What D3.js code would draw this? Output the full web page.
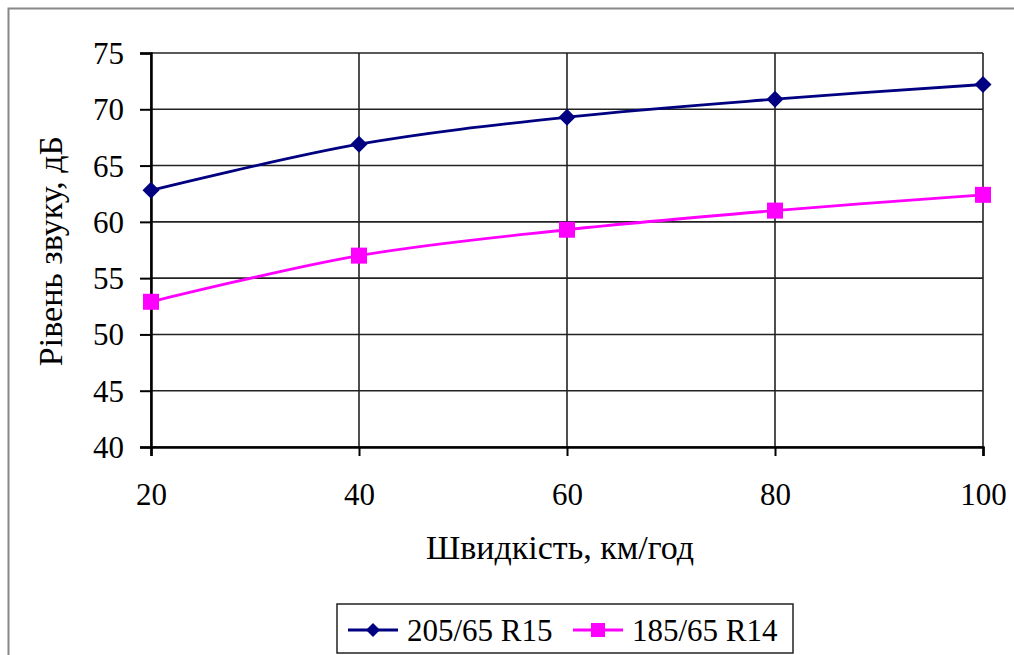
<!DOCTYPE html>
<html><head><meta charset="utf-8">
<script src="https://cdn.jsdelivr.net/npm/d3@7"></script>
<style>body{margin:0;background:#fff}svg{display:block}</style>
</head><body><svg id="c" width="1014" height="655"></svg>
<script>
const speeds = [20, 40, 60, 80, 100];
const seriesNames = ["205/65 R15", "185/65 R14"];
const values205 = [62.8, 66.9, 69.3, 70.9, 72.2];
const values185 = [52.9, 57.0, 59.3, 61.0, 62.4];
const yTicks = [40, 45, 50, 55, 60, 65, 70, 75];
const xTitle = "Швидкість, км/год";
const yTitle = "Рівень звуку, дБ";

const FONT = "'Liberation Serif', 'Times New Roman', serif";
const svg = d3.select("#c");
svg.append("rect").attr("x", 8.5).attr("y", 8.5).attr("width", 1020).attr("height", 660)
  .attr("fill", "none").attr("stroke", "#888").attr("stroke-width", 2);

const L = 151, R = 983, T = 53, B = 447;
const x = d3.scaleLinear().domain([20, 100]).range([L, R]);
const y = d3.scaleLinear().domain([40, 75]).range([B, T]);

svg.append("g").selectAll("line").data(yTicks).join("line")
  .attr("x1", L).attr("x2", R).attr("y1", d => y(d)).attr("y2", d => y(d))
  .attr("stroke", "#222").attr("stroke-width", 1.6);
svg.append("g").selectAll("line").data(speeds).join("line")
  .attr("x1", d => x(d)).attr("x2", d => x(d)).attr("y1", T).attr("y2", B)
  .attr("stroke", "#222").attr("stroke-width", 1.6);

const yAxis = d3.axisLeft(y).tickValues(yTicks).tickSize(11).tickPadding(16);
const gy = svg.append("g").attr("transform", `translate(${L},0)`).call(yAxis);
gy.attr("font-family", null).attr("font-size", null);
gy.select(".domain").attr("stroke", "#000").attr("stroke-width", 2.5);
gy.selectAll(".tick line").attr("stroke", "#000").attr("stroke-width", 2);
gy.selectAll("text").style("font-family", FONT).style("font-size", "31px").attr("dy", "0.34em").attr("fill", "#000");

const xAxis = d3.axisBottom(x).tickValues(speeds).tickSize(9).tickPadding(27);
const gx = svg.append("g").attr("transform", `translate(0,${B})`).call(xAxis);
gx.attr("font-family", null).attr("font-size", null);
gx.select(".domain").attr("stroke", "#000").attr("stroke-width", 2.5);
gx.selectAll(".tick line").attr("stroke", "#000").attr("stroke-width", 2);
gx.selectAll("text").style("font-family", FONT).style("font-size", "31px").attr("fill", "#000");

svg.append("text").attr("x", 560).attr("y", 559).attr("text-anchor", "middle")
  .style("font-family", FONT).style("font-size", "34px").text(xTitle);
svg.append("text").attr("transform", "translate(62,251) rotate(-90)").attr("text-anchor", "middle")
  .style("font-family", FONT).style("font-size", "34px").text(yTitle);

const line = d3.line().x((d, i) => x(speeds[i])).y(d => y(d)).curve(d3.curveCatmullRom.alpha(0.5));
const colors = ["#000080", "#ff00ff"];
const data = [values205, values185];

data.forEach((vals, k) => {
  svg.append("path").attr("d", line(vals)).attr("fill", "none")
    .attr("stroke", colors[k]).attr("stroke-width", 2.8);
});
svg.append("g").selectAll("path").data(values205).join("path")
  .attr("transform", (d, i) => `translate(${x(speeds[i])},${y(d)})`)
  .attr("d", "M0,-8.5L8.5,0L0,8.5L-8.5,0Z").attr("fill", colors[0]);
svg.append("g").selectAll("rect").data(values185).join("rect")
  .attr("x", (d, i) => x(speeds[i]) - 8).attr("y", d => y(d) - 8)
  .attr("width", 16).attr("height", 16).attr("fill", colors[1]);

const lg = svg.append("g");
lg.append("rect").attr("x", 337).attr("y", 604).attr("width", 456).attr("height", 49)
  .attr("fill", "#fff").attr("stroke", "#222").attr("stroke-width", 1.5);
const ly = 630;
const items = [{x0: 348, tx: 407}, {x0: 573, tx: 632}];
items.forEach((it, k) => {
  lg.append("line").attr("x1", it.x0).attr("x2", it.x0 + 50).attr("y1", ly).attr("y2", ly)
    .attr("stroke", colors[k]).attr("stroke-width", 2.8);
  if (k === 0) lg.append("path").attr("transform", `translate(${it.x0 + 25},${ly})`)
    .attr("d", "M0,-7L7,0L0,7L-7,0Z").attr("fill", colors[0]);
  else lg.append("rect").attr("x", it.x0 + 18).attr("y", ly - 7).attr("width", 14).attr("height", 14).attr("fill", colors[1]);
  lg.append("text").attr("x", it.tx).attr("y", ly + 11).style("font-family", FONT).style("font-size", "31px").text(seriesNames[k]);
});
</script></body></html>
